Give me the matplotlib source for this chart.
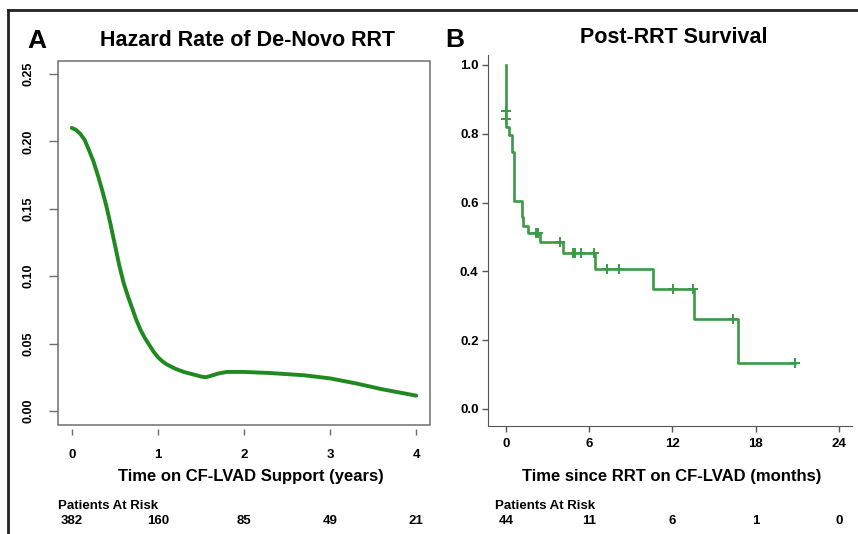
import numpy as np
import matplotlib
matplotlib.use("Agg")
import matplotlib.pyplot as plt
from matplotlib.lines import Line2D
from matplotlib.patches import Rectangle
from matplotlib.transforms import blended_transform_factory

plt.rcParams['font.family'] = ['Liberation Sans', 'DejaVu Sans']
plt.rcParams['font.weight'] = 'bold'

# panel A: smoothed hazard of de-novo RRT
haz_t = [0, 0.05, 0.1, 0.15, 0.2, 0.25, 0.3, 0.35, 0.4, 0.45, 0.5, 0.55, 0.6,
         0.65, 0.7, 0.75, 0.8, 0.85, 0.9, 0.95, 1.0, 1.05, 1.1, 1.2, 1.3,
         1.4, 1.5, 1.55, 1.6, 1.7, 1.8, 2.0, 2.3, 2.7, 3.0, 3.3, 3.6, 4.0]
haz_h = [0.210, 0.2085, 0.2055, 0.2010, 0.1935, 0.1855, 0.1755, 0.1645,
         0.1525, 0.1385, 0.1235, 0.1085, 0.0955, 0.0855, 0.0765, 0.0675,
         0.0600, 0.0540, 0.0490, 0.0440, 0.0400, 0.0370, 0.0347, 0.0314,
         0.0290, 0.0273, 0.0256, 0.0250, 0.0258, 0.0278, 0.0290, 0.0290,
         0.0282, 0.0265, 0.0242, 0.0205, 0.0162, 0.0114]
a_xticks = [0, 1, 2, 3, 4]
a_yticks = [0.00, 0.05, 0.10, 0.15, 0.20, 0.25]
a_risk = [382, 160, 85, 49, 21]

# panel B: Kaplan-Meier post-RRT survival
km_time = [0, 0.03, 0.22, 0.40, 0.58, 1.13, 1.25, 1.60, 2.45, 4.13, 6.41,
           10.57, 13.57, 16.74, 20.83]
km_surv = [1.0, 0.82, 0.797, 0.748, 0.603, 0.559, 0.532, 0.511, 0.486, 0.454,
           0.406, 0.349, 0.2625, 0.133, 0.133]
cens_time = [0.03, 0.03, 2.16, 2.33, 3.9, 4.8, 4.97, 5.38, 6.34, 7.26, 8.17,
             12.06, 13.5, 16.38, 20.83]
cens_surv = [0.866, 0.843, 0.511, 0.511, 0.486, 0.454, 0.454, 0.454, 0.454,
             0.406, 0.406, 0.349, 0.349, 0.2625, 0.133]
b_xticks = [0, 6, 12, 18, 24]
b_yticks = [0.0, 0.2, 0.4, 0.6, 0.8, 1.0]
b_risk = [44, 11, 6, 1, 0]

W, H = 858, 534
fig = plt.figure(figsize=(W / 100, H / 100), dpi=100)


def fx(px):
    return px / W


def fy(py):
    return 1 - py / H


# ---- panel A
axA = fig.add_axes([fx(58), fy(424.5), fx(430) - fx(58), fy(60.5) - fy(424.5)])
axA.plot(haz_t, haz_h, color='#1f8a1f', lw=2.8, solid_capstyle='round',
         solid_joinstyle='round')
axA.set_xlim(-0.16, 4.16)
axA.set_ylim(-0.01, 0.26)
axA.set_xticks(a_xticks)
axA.set_xticklabels([str(v) for v in a_xticks])
axA.set_yticks(a_yticks)
axA.set_yticklabels(['%.2f' % v for v in a_yticks], rotation=90, va='center')
for s in axA.spines.values():
    s.set_visible(False)
axA.spines['bottom'].set_visible(True)
axA.spines['bottom'].set_color('none')
axA.spines['bottom'].set_position(('outward', 3))
axA.add_patch(Rectangle((0, 0), 1, 1, transform=axA.transAxes, fill=False,
                        ec='#6e6e6e', lw=1.1, clip_on=False))
axA.tick_params(axis='y', length=6.7, width=1, color='#6e6e6e', pad=10,
                labelsize=9)
axA.tick_params(axis='x', length=4.5, width=1, color='#6e6e6e', pad=10,
                labelsize=9.5)

# ---- panel B
axB = fig.add_axes([fx(488), fy(426), fx(852) - fx(488), fy(55) - fy(426)])
axB.step(km_time, km_surv, where='post', color='#3a9a45', lw=1.9)
axB.plot(cens_time, cens_surv, ls='none', marker='+', ms=7.5, mew=1.4,
         color='#3a9a45')
axB.set_xlim(-1.3, 24.94)
axB.set_ylim(-0.05, 1.029)
axB.set_xticks(b_xticks)
axB.set_yticks(b_yticks)
axB.set_yticklabels(['%.1f' % v for v in b_yticks])
axB.spines['top'].set_visible(False)
axB.spines['right'].set_visible(False)
axB.spines['left'].set_color('#555555')
axB.spines['bottom'].set_color('#555555')
axB.tick_params(axis='y', length=4.3, width=1, color='#555555', pad=2.5,
                labelsize=9.5)
axB.tick_params(axis='x', length=4.5, width=1, color='#555555', pad=4,
                labelsize=9.5)

# ---- labels, titles
fig.text(fx(37), fy(41), 'A', ha='center', va='center', fontsize=19,
         weight='bold')
fig.text(fx(247), fy(40), 'Hazard Rate of De-Novo RRT', ha='center',
         va='center', fontsize=15.5, weight='bold')
fig.text(fx(455), fy(40), 'B', ha='center', va='center', fontsize=19,
         weight='bold')
fig.text(fx(674), fy(37), 'Post-RRT Survival', ha='center', va='center',
         fontsize=15.5, weight='bold')
fig.text(fx(251), fy(477), 'Time on CF-LVAD Support (years)', ha='center',
         va='center', fontsize=12, weight='bold')
fig.text(fx(672), fy(477), 'Time since RRT on CF-LVAD (months)', ha='center',
         va='center', fontsize=12, weight='bold')
fig.text(fx(58), fy(506), 'Patients At Risk', ha='left', va='center',
         fontsize=9.5, weight='bold')
fig.text(fx(495), fy(506), 'Patients At Risk', ha='left', va='center',
         fontsize=9.5, weight='bold')

trA = blended_transform_factory(axA.transData, fig.transFigure)
for x, n in zip(a_xticks, a_risk):
    axA.text(x, fy(521), str(n), transform=trA, ha='center', va='center',
             fontsize=9.5, weight='bold')
trB = blended_transform_factory(axB.transData, fig.transFigure)
for x, n in zip(b_xticks, b_risk):
    axB.text(x, fy(521), str(n), transform=trB, ha='center', va='center',
             fontsize=9.5, weight='bold')

# outer frame (top and left edges)
fig.add_artist(Line2D([fx(8), 1], [fy(10), fy(10)], transform=fig.transFigure,
                      color='#222222', lw=2))
fig.add_artist(Line2D([fx(8), fx(8)], [fy(10), 0], transform=fig.transFigure,
                      color='#222222', lw=2))

fig.savefig('out.png', dpi=100)
